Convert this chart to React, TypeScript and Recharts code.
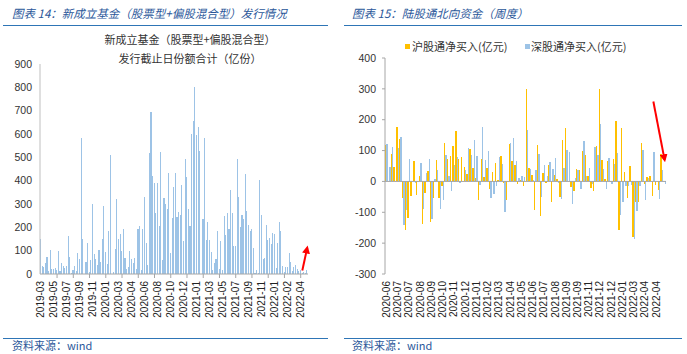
import React from 'react'
import { BarChart, Bar, XAxis, YAxis, ReferenceLine } from 'recharts'

const NUM_FONT = '"Liberation Sans", Arial, sans-serif'
const CJK_FONT = '"Noto Sans CJK SC", "Noto Sans", sans-serif'

// 图表14: 新成立基金（股票型+偏股混合型）发行截止日份额合计（亿份）
const FUND_TICKS = [
  '2019-03', '2019-05', '2019-07', '2019-09', '2019-11', '2020-01', '2020-03',
  '2020-04', '2020-06', '2020-08', '2020-10', '2020-12', '2021-01', '2021-03',
  '2021-05', '2021-07', '2021-09', '2021-11', '2022-01', '2022-02', '2022-04',
]

const FUND_SHARES = [
  148, 34, 30, 46, 71, 13, 101, 21, 21, 24,
  18, 97, 13, 46, 33, 26, 34, 161, 71, 4,
  16, 33, 11, 88, 63, 585, 148, 0, 50, 131,
  7, 58, 302, 84, 63, 37, 101, 50, 148, 290,
  93, 41, 183, 512, 0, 7, 106, 320, 148, 170,
  97, 195, 67, 20, 29, 97, 63, 46, 67, 20,
  195, 204, 16, 195, 332, 131, 37, 517, 696, 418,
  392, 260, 392, 204, 525, 58, 324, 298, 277, 431,
  88, 238, 375,
  431, 243, 264, 255, 380, 140, 495, 414, 277, 204,
  602, 654, 800, 594, 628, 529, 0, 234, 581, 144,
  225, 144, 93, 16, 46, 63, 183, 20, 140, 16,
  247, 166, 260, 191, 362, 260, 118, 118, 491, 332,
  200, 255, 234, 427, 268, 208, 183, 191, 110, 3,
  16, 3, 401, 251, 63, 67, 208, 144, 153, 127,
  174, 170, 24, 131, 221, 183, 33, 7, 29, 29,
  88, 50, 11, 29, 37, 20, 11, 16, 3, 7,
  3, 16,
]

// 图表15: 陆股通北向资金（周度）
const NB_TICKS = [
  '2020-06', '2020-07', '2020-07', '2020-08', '2020-09', '2020-10', '2020-11',
  '2020-12', '2021-01', '2021-02', '2021-03', '2021-04', '2021-05', '2021-06',
  '2021-07', '2021-08', '2021-09', '2021-09', '2021-11', '2021-12', '2021-12',
  '2022-01', '2022-03', '2022-04', '2022-04',
]

const NB_SH = [
  119, 3, 90, 46, 177, 138, -53, -157, -118, -46,
  67, -43, 18, -137, -37, 35, -131, -53, 70, -53,
  -15, 125, 73, 83, 116, 164, 73, 80, 48, 25,
  106, 44, 12, -59, 73, 15, 44, -24, 31, 60,
  5, 83, -4, -59, 122, 67, 54, -8, 5, -14,
  300, 44, 22, -92, 119, -111, 28, -4, 54, -66,
  22, 9, -50, 135, 174, 3, -17, -30, 41, 38,
  99, 86, 18, -21, -30, 116, 300, 70, 9, 67,
  -1, 73, 197, -157, 174, 31, -53, 51, -180, -66,
  -66, 125, -8, 15, 18, -46, -11, -27, 90, 0,
]

const NB_SZ = [
  122, 48, 112, 2, 109, 145, -140, -92, 73, 3,
  -4, 2, 60, -89, 28, 73, -121, 8, 38, -89,
  -60, 86, 18, -30, 54, 80, -4, 3, 38, 109,
  86, 135, 83, -11, 177, 70, 99, -53, -40, -14,
  80, 57, -98, 2, 125, 141, 67, 12, 18, 15,
  167, 41, 5, 38, 90, -50, 54, 18, 64, 41,
  77, -4, -56, 44, 103, 96, -72, 12, 38, -24,
  132, 18, 44, -8, 112, 86, 187, 41, -24, 77,
  -8, 57, 93, -108, -66, -14, -14, -11, -186, -95,
  -14, 103, -59, 12, 3, 96, 3, -56, 38, -8,
]

const fundData = FUND_SHARES.map((v, i) => ({ i, v }))
const nbData = NB_SH.map((sh, i) => ({ i, sh, sz: NB_SZ[i] }))

const BLUE = '#9DC3E6'
const ORANGE = '#FFC000'
const AXIS = '#A6A6A6'

const crispBar = (props: any) => {
  const { x, y, width, height, fill } = props
  if (!height) return <g />
  const top = height < 0 ? y + height : y
  return <rect x={x} y={top} width={Math.max(width, 1)} height={Math.abs(height)} fill={fill} shapeRendering="crispEdges" />
}

const makeTick = (labels: string[], labelEvery: number, markEvery: number) => (props: any) => {
  const { x, y, payload } = props
  const i = payload.value
  const ty = y + 7
  return (
    <g>
      {markEvery > 0 && i > 0 && i % markEvery === 0 && (
        <line x1={x} x2={x} y1={y} y2={y + 4} stroke={AXIS} />
      )}
      {i % labelEvery === 0 && labels[i / labelEvery] && (
        <text
          x={x}
          y={ty}
          transform={`rotate(-90 ${x} ${ty})`}
          textAnchor="end"
          dy="0.35em"
          fontSize={10}
          fill="#222"
          fontFamily={NUM_FONT}
        >
          {labels[i / labelEvery]}
        </text>
      )}
    </g>
  )
}

const fundTick = makeTick(FUND_TICKS, 8, 10)
const nbTick = makeTick(NB_TICKS, 4, 0)

const headerStyle: React.CSSProperties = {
  position: 'absolute',
  top: 5,
  fontSize: 11.5,
  fontStyle: 'italic',
  color: '#2B579A',
  fontFamily: CJK_FONT,
  lineHeight: '16px',
  whiteSpace: 'nowrap',
}

const footStyle: React.CSSProperties = {
  position: 'absolute',
  top: 338,
  fontSize: 11,
  color: '#2B579A',
  fontFamily: CJK_FONT,
  lineHeight: '15px',
  whiteSpace: 'nowrap',
}

const rule = (left: number, top: number, width: number): React.CSSProperties => ({
  position: 'absolute',
  left,
  top,
  width,
  height: 1.5,
  background: '#2E75B6',
})

const textStyle: React.CSSProperties = {
  position: 'absolute',
  fontSize: 11,
  color: '#333',
  fontFamily: CJK_FONT,
  lineHeight: '14px',
  whiteSpace: 'nowrap',
}

export default function App() {
  return (
    <div style={{ position: 'absolute', left: 0, top: 0, width: 687, height: 354, background: '#fff', overflow: 'hidden' }}>
      <svg width={0} height={0} style={{ position: 'absolute' }}>
        <defs>
          <marker id="redHead" viewBox="0 0 10 10" refX="7" refY="5" markerWidth="4" markerHeight="4" orient="auto">
            <path d="M0,0 L10,5 L0,10 z" fill="#FF0000" />
          </marker>
        </defs>
      </svg>

      {/* left panel */}
      <div style={{ ...headerStyle, left: 12 }}>图表 14：新成立基金（股票型+偏股混合型）发行情况</div>
      <div style={rule(3, 24.5, 325)} />
      <div style={{ ...textStyle, left: 90, width: 200, top: 32, textAlign: 'center' }}>新成立基金（股票型+偏股混合型）</div>
      <div style={{ ...textStyle, left: 90, width: 200, top: 51, textAlign: 'center' }}>发行截止日份额合计（亿份）</div>
      <div style={{ position: 'absolute', left: 0, top: 0 }}>
        <BarChart width={330} height={340} data={fundData} margin={{ top: 64, right: 22, left: 0, bottom: 0 }} barSize={1.1}>
          <XAxis
            dataKey="i"
            height={66}
            interval={0}
            axisLine={{ stroke: AXIS }}
            tickLine={false}
            tickSize={0}
            tickMargin={0}
            tick={fundTick}
          />
          <YAxis
            width={40}
            domain={[0, 900]}
            ticks={[0, 100, 200, 300, 400, 500, 600, 700, 800, 900]}
            axisLine={{ stroke: '#BFBFBF' }}
            tickLine={false}
            tick={{ fontSize: 10.5, fill: '#333', fontFamily: NUM_FONT }}
          />
          <Bar dataKey="v" fill={BLUE} isAnimationActive={false} shape={crispBar} />
          <ReferenceLine
            segment={[{ x: 161, y: 15 }, { x: 164, y: 112 }]}
            stroke="#FF0000"
            strokeWidth={2}
            markerEnd="url(#redHead)"
          />
        </BarChart>
      </div>
      <div style={rule(3, 337.5, 325)} />
      <div style={{ ...footStyle, left: 12 }}>资料来源：wind</div>

      {/* right panel */}
      <div style={{ ...headerStyle, left: 352 }}>图表 15：陆股通北向资金（周度）</div>
      <div style={rule(344, 24.5, 338)} />
      <div style={{ position: 'absolute', left: 405, top: 43.5, width: 5, height: 5, background: ORANGE }} />
      <div style={{ ...textStyle, left: 412, top: 39 }}>沪股通净买入(亿元)</div>
      <div style={{ position: 'absolute', left: 525, top: 43.5, width: 5, height: 5, background: BLUE }} />
      <div style={{ ...textStyle, left: 531, top: 39 }}>深股通净买入(亿元)</div>
      <div style={{ position: 'absolute', left: 343, top: 0 }}>
        <BarChart width={344} height={340} data={nbData} margin={{ top: 58, right: 21, left: 0, bottom: 0 }} barSize={1.4} barGap={0}>
          <XAxis
            dataKey="i"
            height={66}
            interval={0}
            axisLine={false}
            tickLine={false}
            tickSize={0}
            tickMargin={0}
            tick={nbTick}
          />
          <YAxis
            width={42}
            domain={[-300, 400]}
            ticks={[-300, -200, -100, 0, 100, 200, 300, 400]}
            axisLine={{ stroke: AXIS }}
            tickLine={{ stroke: AXIS }}
            tickSize={3}
            tickMargin={6}
            tick={{ fontSize: 10.5, fill: '#333', fontFamily: NUM_FONT }}
          />
          <Bar dataKey="sh" fill={ORANGE} isAnimationActive={false} shape={crispBar} />
          <Bar dataKey="sz" fill={BLUE} isAnimationActive={false} shape={crispBar} />
          <ReferenceLine y={0} stroke={AXIS} />
          <ReferenceLine
            segment={[{ x: 95, y: 259 }, { x: 99, y: 70 }]}
            stroke="#FF0000"
            strokeWidth={2}
            markerEnd="url(#redHead)"
          />
        </BarChart>
      </div>
      <div style={rule(344, 337.5, 338)} />
      <div style={{ ...footStyle, left: 352 }}>资料来源：wind</div>
    </div>
  )
}
